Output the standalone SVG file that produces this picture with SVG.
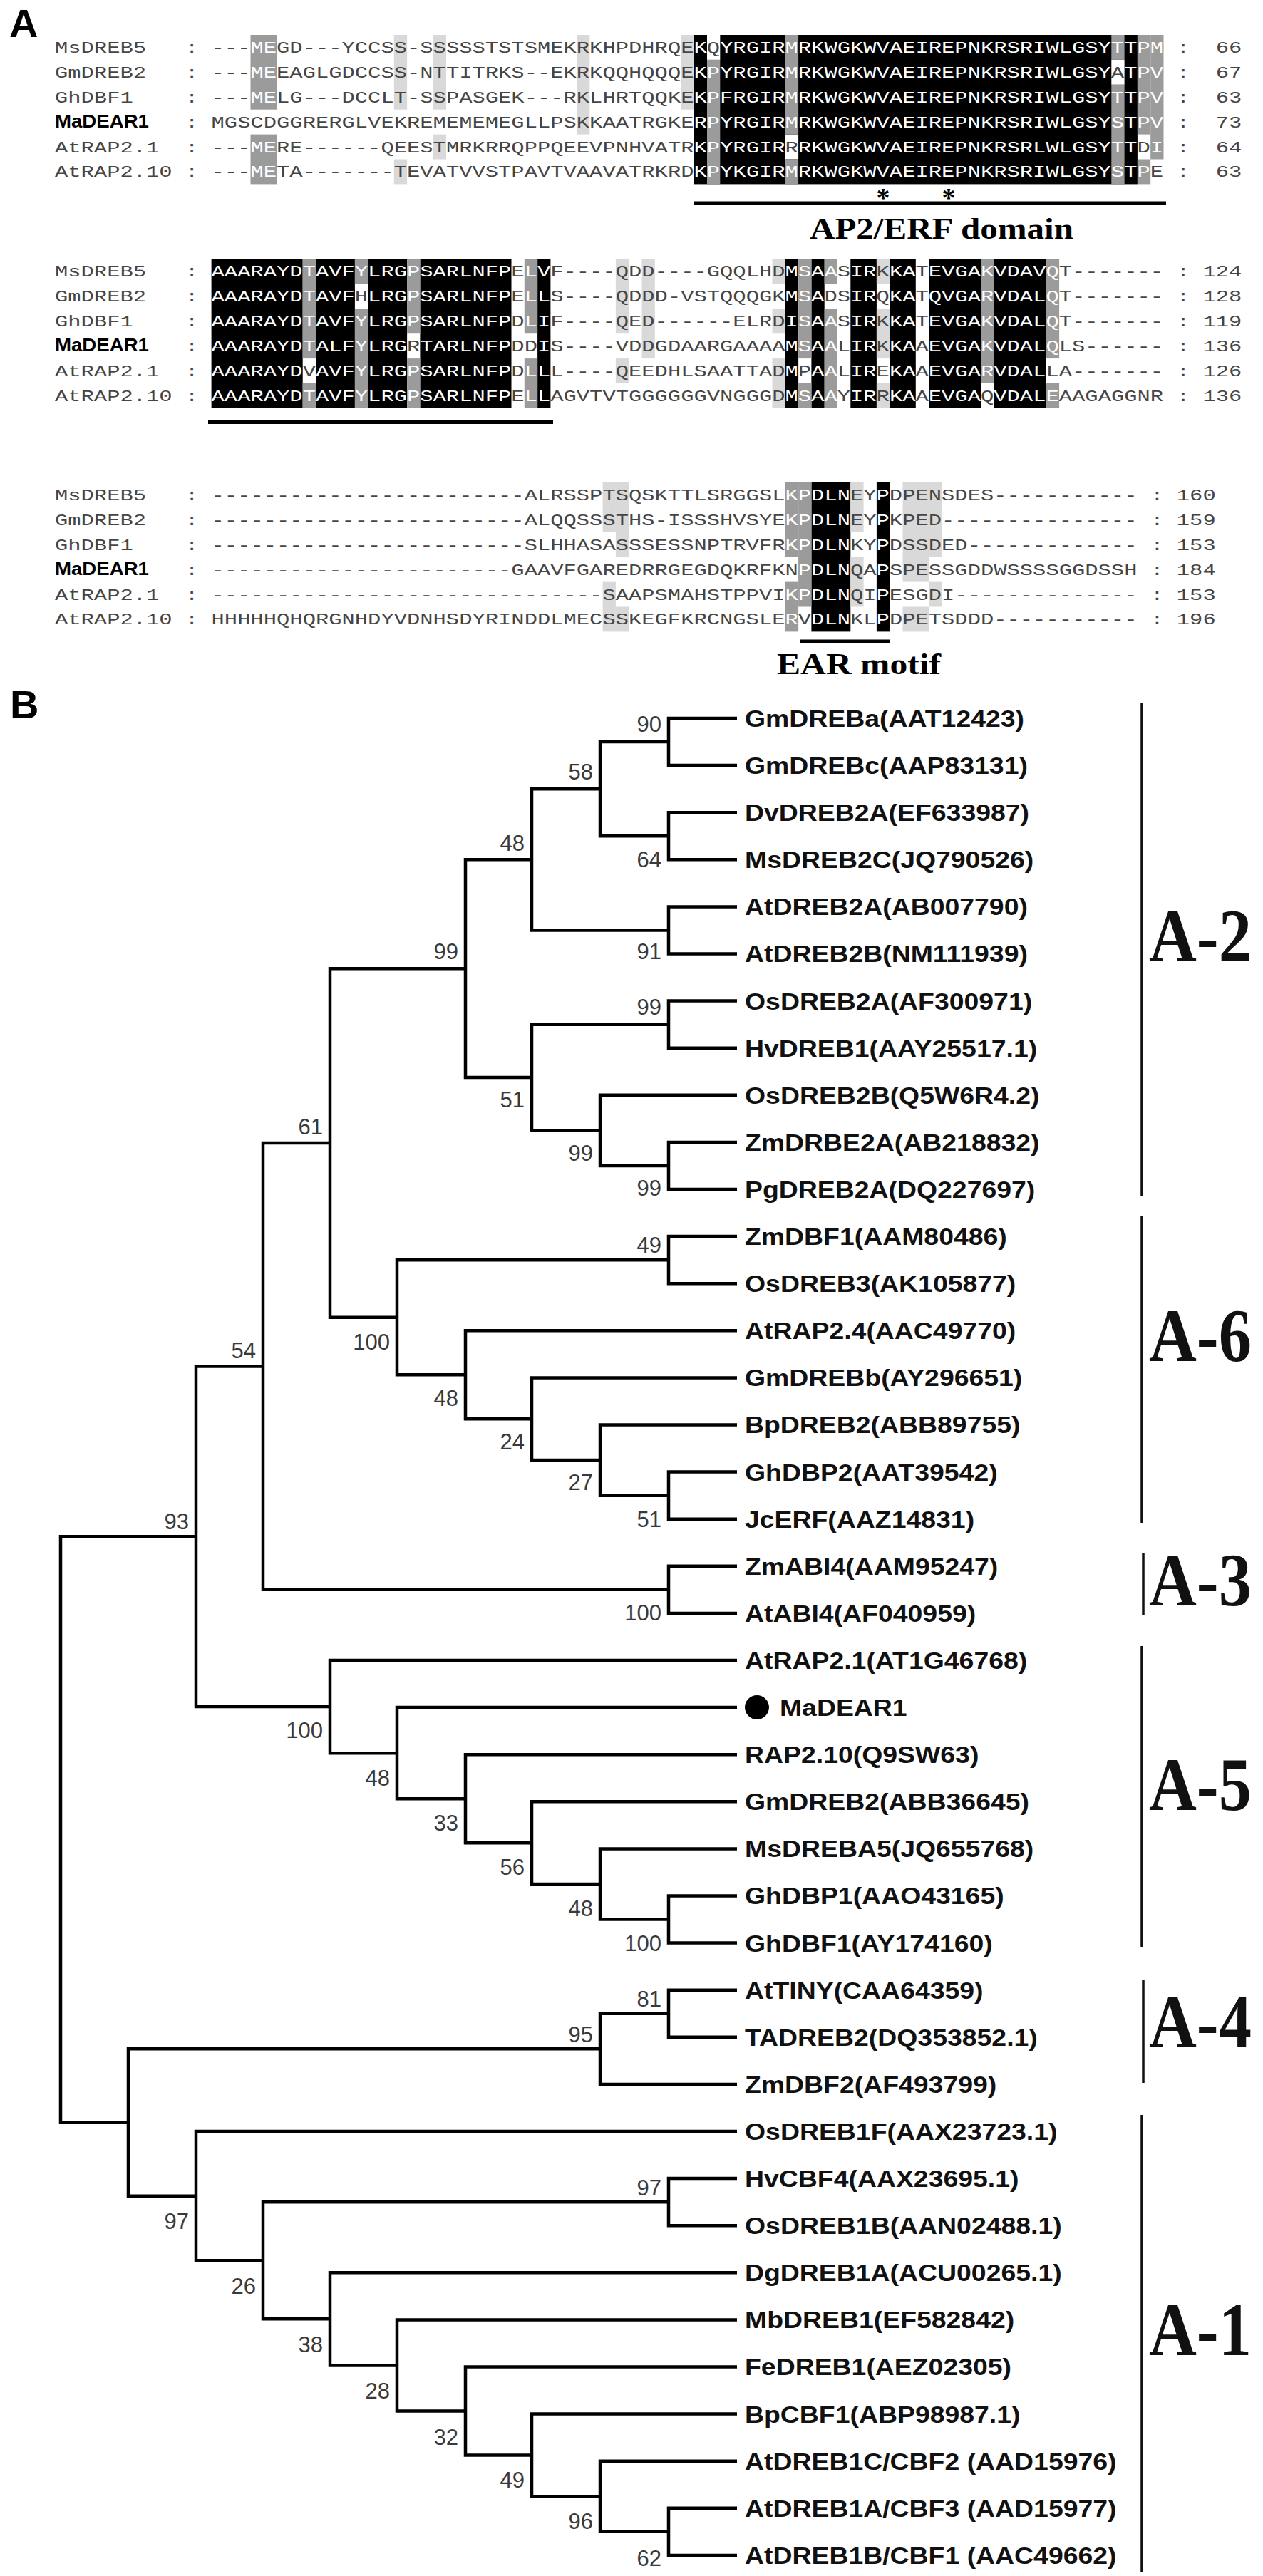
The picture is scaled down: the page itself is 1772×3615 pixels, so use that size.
<svg xmlns="http://www.w3.org/2000/svg" width="1772" height="3615" viewBox="0 0 1772 3615">
<style>
.sq{font-family:'Liberation Mono','DejaVu Sans Mono',monospace;font-size:22px;fill:#454545}
.w{fill:#fff}
.k{fill:#000}.d{fill:#9b9b9b}.l{fill:#d9d9d9}.wb{fill:#fff}
.nmb{font-family:'Liberation Sans',Arial,sans-serif;font-weight:bold;font-size:25px;fill:#000}
.pl{font-family:'Liberation Sans',Arial,sans-serif;font-weight:bold;font-size:56px;fill:#000}
.ann{font-family:'Liberation Serif','Times New Roman',serif;font-weight:bold;font-size:42px;fill:#000}
.ast{font-family:'Liberation Serif','Times New Roman',serif;font-weight:bold;font-size:38px;fill:#000;text-anchor:middle}
.lab{font-family:'Liberation Sans',Arial,sans-serif;font-weight:bold;font-size:34px;fill:#111}
.bs{font-family:'Liberation Sans',Arial,sans-serif;font-size:31px;fill:#3a3a3a;text-anchor:end}
.cl{font-family:'Liberation Serif','Times New Roman',serif;font-weight:bold;font-size:106px;fill:#111}
.tr{fill:none;stroke:#000;stroke-width:4.5}
.bar{fill:none;stroke:#111;stroke-width:3.5}
</style>
<rect width="1772" height="3615" fill="#fff"/>

<g id="panelA">
<text class="pl" x="13" y="52">A</text>

<g id="shade-block1" transform="translate(0,49)">
<rect class="k" x="973.7" y="0" width="622.2" height="209.4"/>
<rect class="wb" x="992" y="0" width="18.3" height="34.9"/>
<rect class="wb" x="1101.8" y="139.6" width="18.3" height="34.9"/>
<rect class="wb" x="1559.3" y="34.9" width="18.3" height="34.9"/>
<rect class="d" x="351.5" y="0" width="36.6" height="104.7"/>
<rect class="d" x="351.5" y="139.6" width="36.6" height="69.8"/>
<rect class="d" x="992" y="34.9" width="18.3" height="174.5"/>
<rect class="d" x="1101.8" y="0" width="18.3" height="139.6"/>
<rect class="d" x="1101.8" y="174.5" width="18.3" height="34.9"/>
<rect class="d" x="1559.3" y="0" width="18.3" height="34.9"/>
<rect class="d" x="1559.3" y="69.8" width="18.3" height="139.6"/>
<rect class="d" x="1595.9" y="0" width="18.3" height="139.6"/>
<rect class="d" x="1595.9" y="174.5" width="18.3" height="34.9"/>
<rect class="d" x="1614.2" y="0" width="18.3" height="174.5"/>
<rect class="l" x="552.8" y="0" width="18.3" height="104.7"/>
<rect class="l" x="552.8" y="174.5" width="18.3" height="34.9"/>
<rect class="l" x="607.7" y="0" width="18.3" height="104.7"/>
<rect class="l" x="607.7" y="139.6" width="18.3" height="34.9"/>
<rect class="l" x="809" y="0" width="18.3" height="139.6"/>
<rect class="l" x="955.4" y="0" width="18.3" height="104.7"/>
</g>

<g id="shade-block2" transform="translate(0,363.5)">
<rect class="k" x="296.6" y="0" width="128.1" height="209.4"/>
<rect class="k" x="443" y="0" width="54.9" height="209.4"/>
<rect class="k" x="516.2" y="0" width="54.9" height="209.4"/>
<rect class="k" x="589.4" y="0" width="128.1" height="209.4"/>
<rect class="k" x="754.1" y="0" width="18.3" height="209.4"/>
<rect class="k" x="1101.8" y="0" width="18.3" height="209.4"/>
<rect class="k" x="1138.4" y="0" width="18.3" height="209.4"/>
<rect class="k" x="1193.3" y="0" width="36.6" height="209.4"/>
<rect class="k" x="1248.2" y="0" width="36.6" height="209.4"/>
<rect class="k" x="1303.1" y="0" width="73.2" height="209.4"/>
<rect class="k" x="1394.6" y="0" width="73.2" height="209.4"/>
<rect class="d" x="424.7" y="0" width="18.3" height="139.6"/>
<rect class="d" x="424.7" y="174.5" width="18.3" height="34.9"/>
<rect class="d" x="497.9" y="0" width="18.3" height="34.9"/>
<rect class="d" x="497.9" y="69.8" width="18.3" height="139.6"/>
<rect class="d" x="571.1" y="0" width="18.3" height="104.7"/>
<rect class="d" x="571.1" y="139.6" width="18.3" height="69.8"/>
<rect class="d" x="735.8" y="0" width="18.3" height="104.7"/>
<rect class="d" x="735.8" y="139.6" width="18.3" height="69.8"/>
<rect class="d" x="1120.1" y="0" width="18.3" height="139.6"/>
<rect class="d" x="1120.1" y="174.5" width="18.3" height="34.9"/>
<rect class="d" x="1156.7" y="0" width="18.3" height="34.9"/>
<rect class="d" x="1156.7" y="69.8" width="18.3" height="139.6"/>
<rect class="d" x="1376.3" y="0" width="18.3" height="174.5"/>
<rect class="d" x="1467.8" y="0" width="18.3" height="139.6"/>
<rect class="d" x="1467.8" y="174.5" width="18.3" height="34.9"/>
<rect class="l" x="863.9" y="0" width="18.3" height="104.7"/>
<rect class="l" x="863.9" y="139.6" width="18.3" height="34.9"/>
<rect class="l" x="900.5" y="0" width="18.3" height="139.6"/>
<rect class="l" x="1083.5" y="0" width="18.3" height="34.9"/>
<rect class="l" x="1083.5" y="69.8" width="18.3" height="34.9"/>
<rect class="l" x="1083.5" y="139.6" width="18.3" height="69.8"/>
<rect class="l" x="1229.9" y="0" width="18.3" height="34.9"/>
<rect class="l" x="1229.9" y="69.8" width="18.3" height="69.8"/>
<rect class="l" x="1229.9" y="174.5" width="18.3" height="34.9"/>
</g>

<g id="shade-block3" transform="translate(0,677)">
<rect class="k" x="1138.4" y="0" width="54.9" height="209.4"/>
<rect class="k" x="1229.9" y="0" width="18.3" height="209.4"/>
<rect class="d" x="1101.8" y="0" width="18.3" height="104.7"/>
<rect class="d" x="1101.8" y="139.6" width="18.3" height="69.8"/>
<rect class="d" x="1120.1" y="0" width="18.3" height="174.5"/>
<rect class="l" x="845.6" y="0" width="18.3" height="69.8"/>
<rect class="l" x="845.6" y="139.6" width="18.3" height="69.8"/>
<rect class="l" x="863.9" y="0" width="18.3" height="104.7"/>
<rect class="l" x="863.9" y="174.5" width="18.3" height="34.9"/>
<rect class="l" x="1193.3" y="0" width="18.3" height="69.8"/>
<rect class="l" x="1193.3" y="104.7" width="18.3" height="69.8"/>
<rect class="l" x="1266.5" y="0" width="36.6" height="139.6"/>
<rect class="l" x="1266.5" y="174.5" width="36.6" height="34.9"/>
<rect class="l" x="1303.1" y="0" width="18.3" height="104.7"/>
<rect class="l" x="1303.1" y="139.6" width="18.3" height="34.9"/>
</g>

<g id="seq-text" transform="scale(1.38636 1)">
<text class="sq" y="74"><tspan x="55.54">MsDREB5</tspan><tspan x="187.54">:</tspan><tspan x="213.94">---<tspan class="w">ME</tspan>GD---YCCSS-SSSSSTSTSMEKRKHPDHRQE<tspan class="w">K</tspan>Q<tspan class="w">YRGIRMRKWGKWVAEIREPNKRSRIWLGSYTTPM</tspan></tspan><tspan x="1190.74">:</tspan></text>
<text class="sq" y="108.9"><tspan x="55.54">GmDREB2</tspan><tspan x="187.54">:</tspan><tspan x="213.94">---<tspan class="w">ME</tspan>EAGLGDCCSS-NTTITRKS--EKRKQQHQQQE<tspan class="w">KPYRGIRMRKWGKWVAEIREPNKRSRIWLGSY</tspan>A<tspan class="w">TPV</tspan></tspan><tspan x="1190.74">:</tspan></text>
<text class="sq" y="143.8"><tspan x="55.54">GhDBF1</tspan><tspan x="187.54">:</tspan><tspan x="213.94">---<tspan class="w">ME</tspan>LG---DCCLT-SSPASGEK---RKLHRTQQKE<tspan class="w">KPFRGIRMRKWGKWVAEIREPNKRSRIWLGSYTTPV</tspan></tspan><tspan x="1190.74">:</tspan></text>
<text class="sq" y="178.7"><tspan x="187.54">:</tspan><tspan x="213.94">MGSCDGGRERGLVEKREMEMEMEGLLPSKKAATRGKE<tspan class="w">RPYRGIRMRKWGKWVAEIREPNKRSRIWLGSYSTPV</tspan></tspan><tspan x="1190.74">:</tspan></text>
<text class="sq" y="213.6"><tspan x="55.54">AtRAP2.1</tspan><tspan x="187.54">:</tspan><tspan x="213.94">---<tspan class="w">ME</tspan>RE------QEESTMRKRRQPPQEEVPNHVATR<tspan class="w">KPYRGIR</tspan>R<tspan class="w">RKWGKWVAEIREPNKRSRLWLGSYTT</tspan>D<tspan class="w">I</tspan></tspan><tspan x="1190.74">:</tspan></text>
<text class="sq" y="248.5"><tspan x="55.54">AtRAP2.10</tspan><tspan x="187.54">:</tspan><tspan x="213.94">---<tspan class="w">ME</tspan>TA-------TEVATVVSTPAVTVAAVATRKRD<tspan class="w">KPYKGIRMRKWGKWVAEIREPNKRSRIWLGSYSTP</tspan>E</tspan><tspan x="1190.74">:</tspan></text>
<g text-anchor="end">
<text class="sq" x="1256.75" y="74">66</text>
<text class="sq" x="1256.75" y="108.9">67</text>
<text class="sq" x="1256.75" y="143.8">63</text>
<text class="sq" x="1256.75" y="178.7">73</text>
<text class="sq" x="1256.75" y="213.6">64</text>
<text class="sq" x="1256.75" y="248.5">63</text>
</g>

<text class="sq" y="388.5"><tspan x="55.54">MsDREB5</tspan><tspan x="187.54">:</tspan><tspan x="213.94"><tspan class="w">AAARAYDTAVFYLRGPSARLNFP</tspan>E<tspan class="w">LV</tspan>F----QDD----GQQLHD<tspan class="w">MSAA</tspan>S<tspan class="w">IR</tspan>K<tspan class="w">KA</tspan>T<tspan class="w">EVGAKVDAVQ</tspan>T-------</tspan><tspan x="1190.74">:</tspan></text>
<text class="sq" y="423.4"><tspan x="55.54">GmDREB2</tspan><tspan x="187.54">:</tspan><tspan x="213.94"><tspan class="w">AAARAYDTAVF</tspan>H<tspan class="w">LRGPSARLNFP</tspan>E<tspan class="w">LL</tspan>S----QDDD-VSTQQQGK<tspan class="w">MSA</tspan>DS<tspan class="w">IR</tspan>Q<tspan class="w">KA</tspan>T<tspan class="w">QVGARVDALQ</tspan>T-------</tspan><tspan x="1190.74">:</tspan></text>
<text class="sq" y="458.3"><tspan x="55.54">GhDBF1</tspan><tspan x="187.54">:</tspan><tspan x="213.94"><tspan class="w">AAARAYDTAVFYLRGPSARLNFP</tspan>D<tspan class="w">LI</tspan>F----QED------ELRD<tspan class="w">ISAA</tspan>S<tspan class="w">IR</tspan>K<tspan class="w">KA</tspan>T<tspan class="w">EVGAKVDALQ</tspan>T-------</tspan><tspan x="1190.74">:</tspan></text>
<text class="sq" y="493.2"><tspan x="187.54">:</tspan><tspan x="213.94"><tspan class="w">AAARAYDTALFYLRG</tspan>R<tspan class="w">TARLNFP</tspan>DD<tspan class="w">I</tspan>S----VDDGDAARGAAAA<tspan class="w">MSAA</tspan>L<tspan class="w">IR</tspan>K<tspan class="w">KA</tspan>A<tspan class="w">EVGAKVDALQ</tspan>LS------</tspan><tspan x="1190.74">:</tspan></text>
<text class="sq" y="528.1"><tspan x="55.54">AtRAP2.1</tspan><tspan x="187.54">:</tspan><tspan x="213.94"><tspan class="w">AAARAYD</tspan>V<tspan class="w">AVFYLRGPSARLNFP</tspan>D<tspan class="w">LL</tspan>L----QEEDHLSAATTAD<tspan class="w">M</tspan>P<tspan class="w">AA</tspan>L<tspan class="w">IR</tspan>E<tspan class="w">KA</tspan>A<tspan class="w">EVGARVDAL</tspan>LA-------</tspan><tspan x="1190.74">:</tspan></text>
<text class="sq" y="563"><tspan x="55.54">AtRAP2.10</tspan><tspan x="187.54">:</tspan><tspan x="213.94"><tspan class="w">AAARAYDTAVFYLRGPSARLNFP</tspan>E<tspan class="w">LL</tspan>AGVTVTGGGGGGVNGGGD<tspan class="w">MSAA</tspan>Y<tspan class="w">IR</tspan>R<tspan class="w">KA</tspan>A<tspan class="w">EVGA</tspan>Q<tspan class="w">VDALE</tspan>AAGAGGNR</tspan><tspan x="1190.74">:</tspan></text>
<g text-anchor="end">
<text class="sq" x="1256.75" y="388.5">124</text>
<text class="sq" x="1256.75" y="423.4">128</text>
<text class="sq" x="1256.75" y="458.3">119</text>
<text class="sq" x="1256.75" y="493.2">136</text>
<text class="sq" x="1256.75" y="528.1">126</text>
<text class="sq" x="1256.75" y="563">136</text>
</g>

<text class="sq" y="702"><tspan x="55.54">MsDREB5</tspan><tspan x="187.54">:</tspan><tspan x="213.94">------------------------ALRSSPTSQSKTTLSRGGSL<tspan class="w">KPDLN</tspan>EY<tspan class="w">P</tspan>DPENSDES-----------</tspan><tspan x="1164.34">:</tspan></text>
<text class="sq" y="736.9"><tspan x="55.54">GmDREB2</tspan><tspan x="187.54">:</tspan><tspan x="213.94">------------------------ALQQSSSTHS-ISSSHVSYE<tspan class="w">KPDLN</tspan>EY<tspan class="w">P</tspan>KPED---------------</tspan><tspan x="1164.34">:</tspan></text>
<text class="sq" y="771.8"><tspan x="55.54">GhDBF1</tspan><tspan x="187.54">:</tspan><tspan x="213.94">------------------------SLHHASASSSESSNPTRVFR<tspan class="w">KPDLN</tspan>KY<tspan class="w">P</tspan>DSSDED-------------</tspan><tspan x="1164.34">:</tspan></text>
<text class="sq" y="806.7"><tspan x="187.54">:</tspan><tspan x="213.94">-----------------------GAAVFGAREDRRGEGDQKRFKN<tspan class="w">PDLN</tspan>QA<tspan class="w">P</tspan>SPESSGDDWSSSSGGDSSH</tspan><tspan x="1164.34">:</tspan></text>
<text class="sq" y="841.6"><tspan x="55.54">AtRAP2.1</tspan><tspan x="187.54">:</tspan><tspan x="213.94">------------------------------SAAPSMAHSTPPVI<tspan class="w">KPDLN</tspan>QI<tspan class="w">P</tspan>ESGDI--------------</tspan><tspan x="1164.34">:</tspan></text>
<text class="sq" y="876.5"><tspan x="55.54">AtRAP2.10</tspan><tspan x="187.54">:</tspan><tspan x="213.94">HHHHHQHQRGNHDYVDNHSDYRINDDLMECSSKEGFKRCNGSLE<tspan class="w">R</tspan>V<tspan class="w">DLN</tspan>KL<tspan class="w">P</tspan>DPETSDDD-----------</tspan><tspan x="1164.34">:</tspan></text>
<g text-anchor="end">
<text class="sq" x="1230.35" y="702">160</text>
<text class="sq" x="1230.35" y="736.9">159</text>
<text class="sq" x="1230.35" y="771.8">153</text>
<text class="sq" x="1230.35" y="806.7">184</text>
<text class="sq" x="1230.35" y="841.6">153</text>
<text class="sq" x="1230.35" y="876.5">196</text>
</g>
</g>

<text class="nmb" x="77" y="178.7" textLength="132" lengthAdjust="spacingAndGlyphs">MaDEAR1</text>
<text class="nmb" x="77" y="493.2" textLength="132" lengthAdjust="spacingAndGlyphs">MaDEAR1</text>
<text class="nmb" x="77" y="806.7" textLength="132" lengthAdjust="spacingAndGlyphs">MaDEAR1</text>

<g id="annotations">
<text class="ast" x="1239" y="290">*</text>
<text class="ast" x="1331" y="290">*</text>
<rect class="k" x="974" y="282.5" width="662" height="5"/>
<text class="ann" x="1136" y="335" textLength="370" lengthAdjust="spacingAndGlyphs">AP2/ERF domain</text>
<rect class="k" x="292" y="590" width="484" height="5"/>
<rect class="k" x="1122" y="897.5" width="127" height="5"/>
<text class="ann" x="1090" y="946" textLength="230" lengthAdjust="spacingAndGlyphs">EAR motif</text>
</g>
</g>

<g id="panelB">
<text class="pl" x="14" y="1008">B</text>

<g id="connectors">
<path class="tr" d="M1034 1008H938V1074.1H1034M1034 1140.2H938V1206.3H1034M1034 1272.4H938V1338.5H1034M1034 1404.6H938V1470.7H1034M1034 1602.9H938V1669H1034M1034 1735.1H938V1801.2H1034M1034 2065.6H938V2131.7H1034M1034 2197.8H938V2263.9H1034M1034 2660.5H938V2726.6H1034M1034 2792.7H938V2858.8H1034M1034 3057.1H938V3123.2H1034M1034 3519.8H938V3585.9H1034"/>
<path class="tr" d="M938 1041.05H842V1173.25H938M842 1107.15H746V1305.45H938M1034 1536.8H842V1635.95H938M938 1437.65H746V1586.38H842M746 1206.3H653V1512.01H746M1034 1999.5H842V2098.65H938M1034 1933.4H746V2049.08H842M1034 1867.3H653V1991.24H746M938 1768.15H557V1929.27H653M653 1359.16H463V1848.71H557M463 1603.94H369V2230.85H938"/>
<path class="tr" d="M1034 2594.4H842V2693.55H938M1034 2528.3H746V2643.98H842M1034 2462.2H653V2586.14H746M1034 2396.1H557V2524.17H653M1034 2330H463V2460.13H557M369 1917.4H275V2395.07H463M938 2825.75H842V2924.9H1034"/>
<path class="tr" d="M1034 3453.7H842V3552.85H938M1034 3387.6H746V3503.28H842M1034 3321.5H653V3445.44H746M1034 3255.4H557V3383.47H653M1034 3189.3H463V3319.43H557M938 3090.15H369V3254.37H463M1034 2991H275V3172.26H369M842 2875.33H180V3081.63H275M275 2156.23H85V2978.48H180"/>
</g>

<g id="bootstrap">
<text class="bs" x="928" y="1027">90</text>
<text class="bs" x="832" y="1094">58</text>
<text class="bs" x="928" y="1217">64</text>
<text class="bs" x="736" y="1194">48</text>
<text class="bs" x="928" y="1346">91</text>
<text class="bs" x="643" y="1346">99</text>
<text class="bs" x="928" y="1424">99</text>
<text class="bs" x="736" y="1554">51</text>
<text class="bs" x="453" y="1592">61</text>
<text class="bs" x="832" y="1629">99</text>
<text class="bs" x="928" y="1678">99</text>
<text class="bs" x="928" y="1758">49</text>
<text class="bs" x="547" y="1894">100</text>
<text class="bs" x="359" y="1906">54</text>
<text class="bs" x="643" y="1973">48</text>
<text class="bs" x="736" y="2034">24</text>
<text class="bs" x="832" y="2091">27</text>
<text class="bs" x="928" y="2143">51</text>
<text class="bs" x="265" y="2146">93</text>
<text class="bs" x="928" y="2274">100</text>
<text class="bs" x="453" y="2439">100</text>
<text class="bs" x="547" y="2506">48</text>
<text class="bs" x="643" y="2569">33</text>
<text class="bs" x="736" y="2631">56</text>
<text class="bs" x="832" y="2689">48</text>
<text class="bs" x="928" y="2738">100</text>
<text class="bs" x="928" y="2816">81</text>
<text class="bs" x="832" y="2866">95</text>
<text class="bs" x="928" y="3081">97</text>
<text class="bs" x="265" y="3128">97</text>
<text class="bs" x="359" y="3219">26</text>
<text class="bs" x="453" y="3301">38</text>
<text class="bs" x="547" y="3366">28</text>
<text class="bs" x="643" y="3431">32</text>
<text class="bs" x="736" y="3491">49</text>
<text class="bs" x="832" y="3549">96</text>
<text class="bs" x="928" y="3601">62</text>
</g>

<g id="leaf-MaDEAR1-dot"><circle cx="1062" cy="2396" r="17" fill="#000"/></g>

<g id="leaves" transform="scale(1.1 1)">
<g id="t0"><text class="lab" x="950" y="1020">GmDREBa(AAT12423)</text></g>
<g id="t1"><text class="lab" x="950" y="1086.1">GmDREBc(AAP83131)</text></g>
<g id="t2"><text class="lab" x="950" y="1152.2">DvDREB2A(EF633987)</text></g>
<g id="t3"><text class="lab" x="950" y="1218.3">MsDREB2C(JQ790526)</text></g>
<g id="t4"><text class="lab" x="950" y="1284.4">AtDREB2A(AB007790)</text></g>
<g id="t5"><text class="lab" x="950" y="1350.5">AtDREB2B(NM111939)</text></g>
<g id="t6"><text class="lab" x="950" y="1416.6">OsDREB2A(AF300971)</text></g>
<g id="t7"><text class="lab" x="950" y="1482.7">HvDREB1(AAY25517.1)</text></g>
<g id="t8"><text class="lab" x="950" y="1548.8">OsDREB2B(Q5W6R4.2)</text></g>
<g id="t9"><text class="lab" x="950" y="1614.9">ZmDRBE2A(AB218832)</text></g>
<g id="t10"><text class="lab" x="950" y="1681">PgDREB2A(DQ227697)</text></g>
<g id="t11"><text class="lab" x="950" y="1747.1">ZmDBF1(AAM80486)</text></g>
<g id="t12"><text class="lab" x="950" y="1813.2">OsDREB3(AK105877)</text></g>
<g id="t13"><text class="lab" x="950" y="1879.3">AtRAP2.4(AAC49770)</text></g>
<g id="t14"><text class="lab" x="950" y="1945.4">GmDREBb(AY296651)</text></g>
<g id="t15"><text class="lab" x="950" y="2011.5">BpDREB2(ABB89755)</text></g>
<g id="t16"><text class="lab" x="950" y="2077.6">GhDBP2(AAT39542)</text></g>
<g id="t17"><text class="lab" x="950" y="2143.7">JcERF(AAZ14831)</text></g>
<g id="t18"><text class="lab" x="950" y="2209.8">ZmABI4(AAM95247)</text></g>
<g id="t19"><text class="lab" x="950" y="2275.9">AtABI4(AF040959)</text></g>
<g id="t20"><text class="lab" x="950" y="2342">AtRAP2.1(AT1G46768)</text></g>
<g id="t21"><text class="lab" x="994.5" y="2408.1">MaDEAR1</text></g>
<g id="t22"><text class="lab" x="950" y="2474.2">RAP2.10(Q9SW63)</text></g>
<g id="t23"><text class="lab" x="950" y="2540.3">GmDREB2(ABB36645)</text></g>
<g id="t24"><text class="lab" x="950" y="2606.4">MsDREBA5(JQ655768)</text></g>
<g id="t25"><text class="lab" x="950" y="2672.5">GhDBP1(AAO43165)</text></g>
<g id="t26"><text class="lab" x="950" y="2738.6">GhDBF1(AY174160)</text></g>
<g id="t27"><text class="lab" x="950" y="2804.7">AtTINY(CAA64359)</text></g>
<g id="t28"><text class="lab" x="950" y="2870.8">TADREB2(DQ353852.1)</text></g>
<g id="t29"><text class="lab" x="950" y="2936.9">ZmDBF2(AF493799)</text></g>
<g id="t30"><text class="lab" x="950" y="3003">OsDREB1F(AAX23723.1)</text></g>
<g id="t31"><text class="lab" x="950" y="3069.1">HvCBF4(AAX23695.1)</text></g>
<g id="t32"><text class="lab" x="950" y="3135.2">OsDREB1B(AAN02488.1)</text></g>
<g id="t33"><text class="lab" x="950" y="3201.3">DgDREB1A(ACU00265.1)</text></g>
<g id="t34"><text class="lab" x="950" y="3267.4">MbDREB1(EF582842)</text></g>
<g id="t35"><text class="lab" x="950" y="3333.5">FeDREB1(AEZ02305)</text></g>
<g id="t36"><text class="lab" x="950" y="3399.6">BpCBF1(ABP98987.1)</text></g>
<g id="t37"><text class="lab" x="950" y="3465.7">AtDREB1C/CBF2 (AAD15976)</text></g>
<g id="t38"><text class="lab" x="950" y="3531.8">AtDREB1A/CBF3 (AAD15977)</text></g>
<g id="t39"><text class="lab" x="950" y="3597.9">AtDREB1B/CBF1 (AAC49662)</text></g>
</g>

<g id="clades">
<path class="bar" d="M1602 987V1678M1602 1707V2137M1604 2180V2267M1602 2310V2733M1604 2778V2923M1602 2968V3610"/>
<text class="cl" x="1612" y="1349" textLength="144" lengthAdjust="spacingAndGlyphs">A-2</text>
<text class="cl" x="1612" y="1910" textLength="144" lengthAdjust="spacingAndGlyphs">A-6</text>
<text class="cl" x="1612" y="2253" textLength="144" lengthAdjust="spacingAndGlyphs">A-3</text>
<text class="cl" x="1612" y="2540" textLength="144" lengthAdjust="spacingAndGlyphs">A-5</text>
<text class="cl" x="1612" y="2873" textLength="144" lengthAdjust="spacingAndGlyphs">A-4</text>
<text class="cl" x="1612" y="3305" textLength="144" lengthAdjust="spacingAndGlyphs">A-1</text>
</g>
</g>
</svg>
